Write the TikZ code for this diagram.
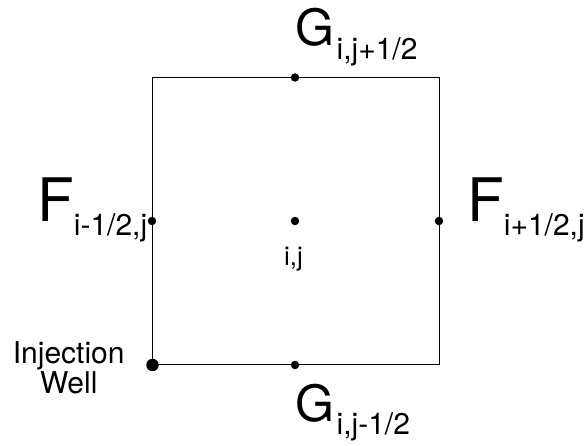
\documentclass[tikz,border=0pt]{standalone}
\usepackage{fontspec}
\setmainfont{TeX Gyre Heros}
\newcommand\lowsub[1]{\raisebox{-13.5pt}{\fontsize{30}{30}\selectfont #1}}
\begin{document}
\begin{tikzpicture}[x=1pt,y=-1pt,
  lbl/.style={inner sep=0pt, anchor=base west},
  bigF/.style={lbl, font=\fontsize{60}{60}\selectfont},
  bigG/.style={lbl, font=\fontsize{50}{50}\selectfont},
  small/.style={lbl, font=\fontsize{30}{27}\selectfont},
  dot/.style={circle, fill=black, inner sep=0pt, minimum size=8.5pt},
  bigdot/.style={circle, fill=black, inner sep=0pt, minimum size=12.5pt}]
\useasboundingbox (0,0) rectangle (584,446);
\coordinate (nw) at (152,77.5);
\coordinate (se) at (439,365);
\draw[line width=1pt] (nw) rectangle (se);
\node[dot] (top) at (295,77.5) {};
\node[dot] (bot) at (295,365) {};
\node[dot] (left) at (152,221) {};
\node[dot] (right) at (439,221) {};
\node[dot] (ctr) at (295,221) {};
\node[bigdot] (well) at (152.5,365) {};
\node[bigF] (fl) at (37,222) {F\lowsub{i-1/2,j}};
\node[bigF] (fr) at (467,222) {F\lowsub{i+1/2,j}};
\node[bigG] (gt) at (295.5,46) {G\hspace{2pt}\lowsub{i,j+1/2}};
\node[bigG] (gb) at (295.5,421) {G\hspace{2pt}\lowsub{i,j-1/2}};
\node[lbl, font=\fontsize{26}{26}\selectfont, anchor=base] (ij) at (293.5,266) {i,j};
\node[small, align=center, anchor=base] (inj) at (68.75,393) {Injection\\Well};
\end{tikzpicture}
\end{document}
